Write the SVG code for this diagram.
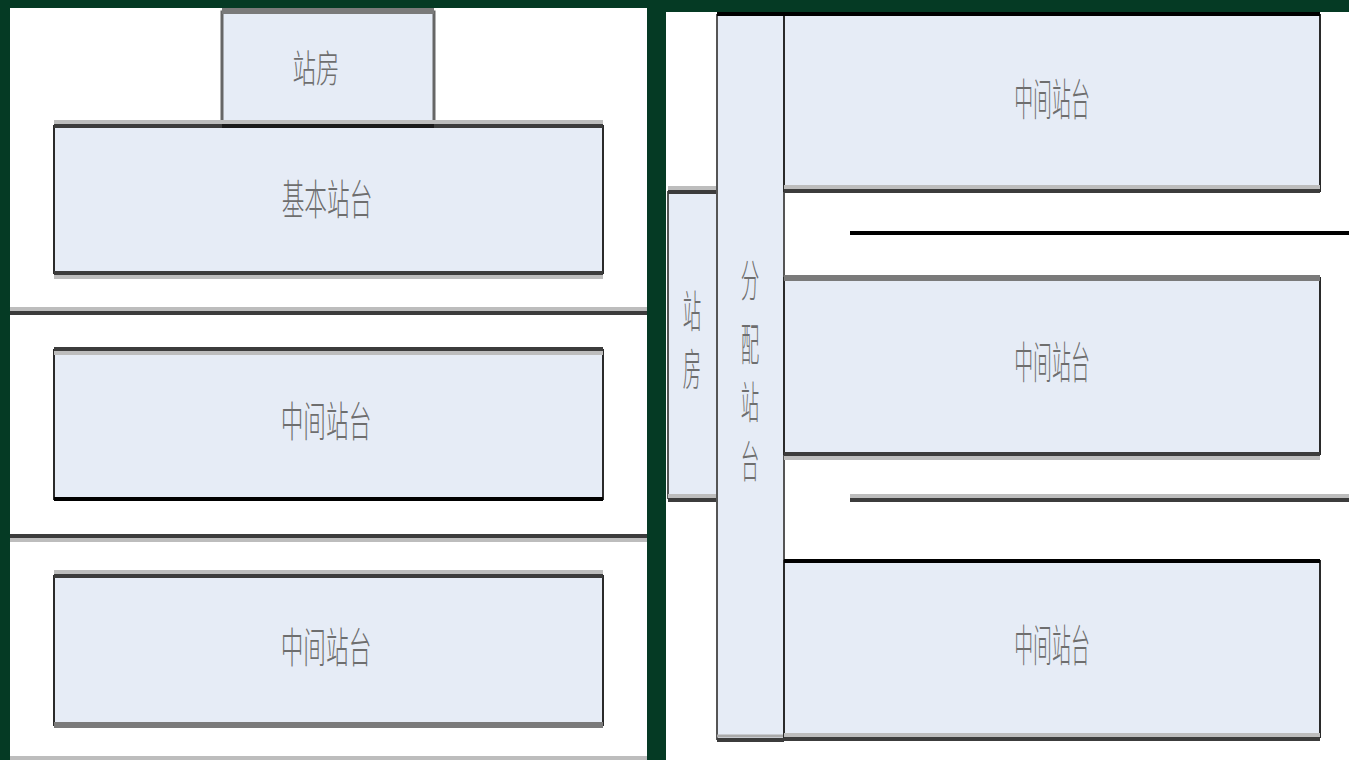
<svg xmlns="http://www.w3.org/2000/svg" width="1349" height="760" viewBox="0 0 1349 760">
<style>
.bg{fill:#053A24}
.panel{fill:#ffffff}
.box{fill:#E6ECF6;stroke:#2a2a2a;stroke-width:2}
.dk{stroke:#3c3c3c;stroke-width:4;fill:none}
.bk{stroke:#000;stroke-width:4;fill:none}
.lt{stroke:#bdbdbd;stroke-width:4;fill:none}
.md{stroke:#7a7a7a;stroke-width:6;fill:none}
.t{font-family:"Noto Sans CJK SC","Noto Sans",sans-serif;font-size:44px;font-weight:300;fill:#6e6e6e;text-anchor:middle;dominant-baseline:central}
</style>
<rect class="bg" x="0" y="0" width="1349" height="760"/>
<rect class="panel" x="10" y="8" width="637" height="752"/>
<rect class="panel" x="666" y="12" width="683" height="748"/>

<g id="tracks">
<line class="lt" x1="10" y1="309" x2="647" y2="309"/>
<line class="dk" x1="10" y1="313" x2="647" y2="313"/>
<line class="dk" x1="10" y1="536" x2="647" y2="536"/>
<line class="lt" x1="10" y1="540" x2="647" y2="540"/>
<line class="lt" x1="10" y1="758" x2="647" y2="758"/>
<line class="bk" x1="850" y1="233" x2="1349" y2="233"/>
<line class="lt" x1="850" y1="496" x2="1349" y2="496"/>
<line class="dk" x1="850" y1="500" x2="1349" y2="500"/>
</g>

<g id="left-station-house">
<rect class="box" x="222" y="12" width="212" height="113" style="stroke:#666;stroke-width:3"/>
<line class="md" x1="222" y1="11" x2="434" y2="11"/>
<text class="t" transform="translate(316,65) scale(0.62,1)" style="font-size:38px">站房</text>
</g>

<g id="basic-platform">
<rect class="box" x="54" y="126" width="549" height="147"/>
<line class="lt" x1="54" y1="122" x2="603" y2="122"/>
<line class="dk" x1="54" y1="126" x2="603" y2="126"/>
<line class="dk" x1="54" y1="273" x2="603" y2="273"/>
<line class="lt" x1="54" y1="277" x2="603" y2="277"/>
<line stroke="#1a1a1a" stroke-width="4" x1="222" y1="126" x2="434" y2="126"/>
<text class="t" transform="translate(327,197) scale(0.54,1)" style="font-size:42px">基本站台</text>
</g>

<g id="left-mid-platform-1">
<rect class="box" x="54" y="350" width="549" height="149"/>
<line class="dk" x1="54" y1="349" x2="603" y2="349"/>
<line class="lt" x1="54" y1="353" x2="603" y2="353"/>
<line class="bk" x1="54" y1="499" x2="603" y2="499"/>
<text class="t" transform="translate(326,419) scale(0.54,1)" style="font-size:42px">中间站台</text>
</g>

<g id="left-mid-platform-2">
<rect class="box" x="54" y="576" width="549" height="149"/>
<line class="lt" x1="54" y1="572" x2="603" y2="572"/>
<line class="dk" x1="54" y1="576" x2="603" y2="576"/>
<line class="md" x1="54" y1="725" x2="603" y2="725"/>
<text class="t" transform="translate(326,645) scale(0.54,1)" style="font-size:42px">中间站台</text>
</g>

<g id="right-station-house">
<rect class="box" x="668" y="192" width="49" height="306" style="stroke:#555"/>
<line class="lt" x1="668" y1="188" x2="717" y2="188"/>
<line class="dk" x1="668" y1="192" x2="717" y2="192"/>
<line class="lt" x1="668" y1="496" x2="717" y2="496"/>
<line class="dk" x1="668" y1="500" x2="717" y2="500"/>
<text class="t" transform="translate(692,309) scale(0.42,1)">站</text>
<text class="t" transform="translate(692,367) scale(0.42,1)">房</text>
</g>

<g id="distribution-platform">
<rect class="box" x="717" y="15" width="67" height="724" style="stroke:#555"/>
<line class="md" x1="717" y1="736" x2="784" y2="736" style="stroke:#aaa;stroke-width:3"/>
<line class="dk" x1="717" y1="740" x2="784" y2="740"/>
<text class="t" transform="translate(750,278) scale(0.42,1)">分</text>
<text class="t" transform="translate(750,342) scale(0.42,1)">配</text>
<text class="t" transform="translate(750,400) scale(0.42,1)">站</text>
<text class="t" transform="translate(750,459) scale(0.42,1)">台</text>
</g>

<g id="right-mid-platform-1">
<rect class="box" x="784" y="15" width="536" height="176"/>
<line class="bk" x1="717" y1="14" x2="1320" y2="14"/>
<line class="lt" x1="784" y1="187" x2="1320" y2="187"/>
<line class="dk" x1="784" y1="191" x2="1320" y2="191"/>
<text class="t" transform="translate(1052,97) scale(0.43,1)">中间站台</text>
</g>

<g id="right-mid-platform-2">
<rect class="box" x="784" y="278" width="536" height="176"/>
<line class="md" x1="784" y1="278" x2="1320" y2="278"/>
<line class="dk" x1="784" y1="454" x2="1320" y2="454"/>
<line class="lt" x1="784" y1="458" x2="1320" y2="458"/>
<text class="t" transform="translate(1052,360) scale(0.43,1)">中间站台</text>
</g>

<g id="right-mid-platform-3">
<rect class="box" x="784" y="561" width="536" height="176"/>
<line class="bk" x1="784" y1="561" x2="1320" y2="561"/>
<line class="lt" x1="784" y1="735" x2="1320" y2="735"/>
<line class="dk" x1="784" y1="739" x2="1320" y2="739"/>
<text class="t" transform="translate(1052,643) scale(0.43,1)">中间站台</text>
</g>
</svg>
